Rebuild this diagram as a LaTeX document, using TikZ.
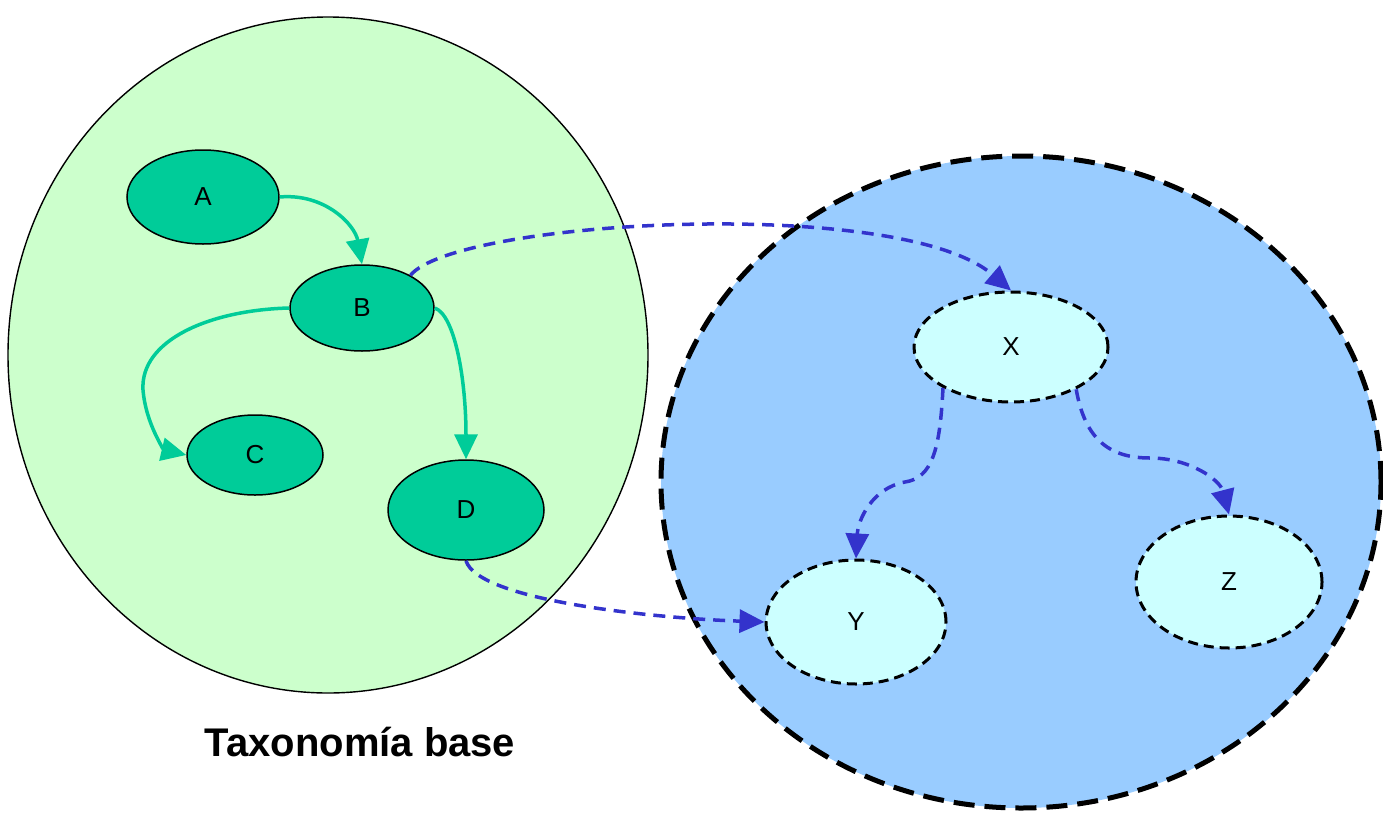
\documentclass[tikz,border=0pt]{standalone}
\usepackage{fontspec}
\setmainfont{Liberation Sans}
\usetikzlibrary{arrows.meta,shapes.geometric}
\definecolor{bggreen}{HTML}{CCFFCC}
\definecolor{nodegreen}{HTML}{00CC99}
\definecolor{bgblue}{HTML}{99CCFF}
\definecolor{nodecyan}{HTML}{CCFFFF}
\definecolor{edgeblue}{HTML}{3333CC}
\tikzset{
  gnode/.style={ellipse, draw=black, line width=1.5pt, fill=nodegreen, inner sep=0pt, font=\fontsize{26}{26}\selectfont},
  cnode/.style={ellipse, draw=black, line width=3pt, dash pattern=on 10pt off 6pt, fill=nodecyan, inner sep=0pt, font=\fontsize{26}{26}\selectfont},
  gedge/.style={draw=nodegreen, line width=3.5pt, -{Triangle[length=25pt,width=23pt]}},
  bedge/.style={draw=edgeblue, line width=3.5pt, dash pattern=on 12pt off 8pt, -{Triangle[length=25pt,width=23pt,fill=edgeblue]}},
}
\begin{document}
\begin{tikzpicture}[x=1pt,y=-1pt]
\useasboundingbox (0,0) rectangle (1383,814);
% containers
\node[ellipse, draw=black, line width=1.4pt, fill=bggreen, minimum width=640pt, minimum height=676pt, inner sep=0pt] (base) at (328,355) {};
\node[ellipse, draw=black, line width=5pt, dash pattern=on 21pt off 10pt, fill=bgblue, minimum width=720pt, minimum height=652pt, inner sep=0pt] (ext) at (1021,482) {};
\node[font=\bfseries\fontsize{40}{40}\selectfont] (lbl) at (360,742) {Taxonomía base};
% nodes
\node[gnode, minimum width=152pt, minimum height=94pt] (A) at (203,197) {A};
\node[gnode, minimum width=144pt, minimum height=86pt] (B) at (362,308) {B};
\node[gnode, minimum width=136pt, minimum height=80pt] (C) at (255,455) {C};
\node[gnode, minimum width=156pt, minimum height=100pt] (D) at (466,510) {D};
\node[cnode, minimum width=194pt, minimum height=110pt] (X) at (1011,347) {X};
\node[cnode, minimum width=180pt, minimum height=124pt] (Y) at (856,622) {Y};
\node[cnode, minimum width=186pt, minimum height=132pt] (Z) at (1229,582) {Z};
% green edges
\draw[gedge] (A.east) .. controls (325,193) and (355,225) .. (B.north);
\draw[gedge] (B.west) .. controls (210,310) and (140,340) .. (143,390) .. controls (146,425) and (165,450) .. (C.west);
\draw[gedge] (B.east) .. controls (455,315) and (466,380) .. (D.north);
% blue dashed edges
\draw[bedge] (B.34) .. controls (455,220) and (900,195) .. (X.north);
\draw[bedge] (D.south) .. controls (478,600) and (650,618) .. (Y.west);
\draw[bedge] (X.211) .. controls (940,450) and (932,478) .. (905,482) .. controls (872,488) and (858,520) .. (Y.north);
\draw[bedge] (X.327) .. controls (1085,440) and (1110,458) .. (1150,458) .. controls (1190,458) and (1220,480) .. (Z.north);
\end{tikzpicture}
\end{document}
